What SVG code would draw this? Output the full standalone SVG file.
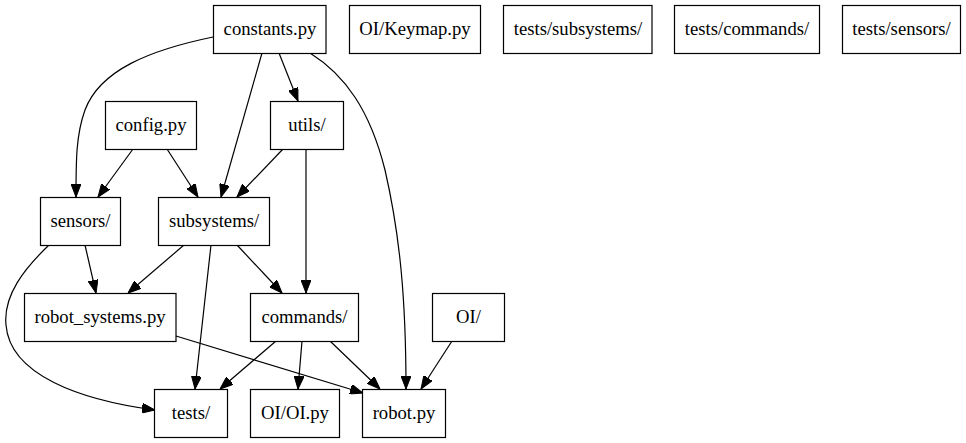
<svg xmlns="http://www.w3.org/2000/svg" width="966" height="443" viewBox="0 0 966 443">
<style>
.n rect{fill:#fff;stroke:#000;stroke-width:1.2}
.n text{font-family:"Liberation Serif","Times New Roman",serif;font-size:18.67px;text-anchor:middle;fill:#000}
#edges path{fill:none;stroke:#000;stroke-width:1.2;marker-end:url(#ah)}
</style>
<defs>
<marker id="ah" viewBox="0 0 13 10" refX="13" refY="5" markerWidth="13" markerHeight="10" markerUnits="userSpaceOnUse" orient="auto">
<path d="M0,0 L13,5 L0,10 z" fill="#000" stroke="#000"/>
</marker>
</defs>
<rect width="966" height="443" fill="#fff"/>
<g id="edges">
<path d="M213,37 C150,50 100,70 85,110 C76,135 76,160 76,197"/>
<path d="M262,53 L221,197"/>
<path d="M279,53 L298,101"/>
<path d="M310,53 C345,75 370,110 385,170 C400,235 406,300 406,389"/>
<path d="M133,149 L98,197"/>
<path d="M167,149 L198,197"/>
<path d="M283,149 L237,197"/>
<path d="M306,149 L306,293"/>
<path d="M85,245 L96,293"/>
<path d="M49,245 C25,268 3,295 6,325 C10,375 80,400 155,410"/>
<path d="M184,245 L128,293"/>
<path d="M211,245 L195,389"/>
<path d="M237,245 L282,293"/>
<path d="M176,336 L363,393"/>
<path d="M276,341 L220,389"/>
<path d="M302,341 L298,389"/>
<path d="M330,341 L380,389"/>
<path d="M452,341 L421,389"/>
</g>
<g id="constants" class="n"><rect x="213.5" y="5.5" width="112.5" height="48"/><text x="270" y="35">constants.py</text></g>
<g id="keymap" class="n"><rect x="349.5" y="5.5" width="131" height="48"/><text x="415" y="35">OI/Keymap.py</text></g>
<g id="tests_subsystems" class="n"><rect x="503.5" y="5.5" width="148.5" height="48"/><text x="578" y="35">tests/subsystems/</text></g>
<g id="tests_commands" class="n"><rect x="674.5" y="5.5" width="145" height="48"/><text x="747" y="35">tests/commands/</text></g>
<g id="tests_sensors" class="n"><rect x="842.5" y="5.5" width="118" height="48"/><text x="901.5" y="35">tests/sensors/</text></g>
<g id="config" class="n"><rect x="105.5" y="101.5" width="91" height="48"/><text x="151" y="131">config.py</text></g>
<g id="utils" class="n"><rect x="270.5" y="101.5" width="73" height="48"/><text x="307" y="131">utils/</text></g>
<g id="sensors" class="n"><rect x="40.5" y="197.5" width="80" height="48"/><text x="80.5" y="227">sensors/</text></g>
<g id="subsystems" class="n"><rect x="158.5" y="197.5" width="111" height="48"/><text x="214" y="227">subsystems/</text></g>
<g id="robot_systems" class="n"><rect x="24.5" y="293.5" width="151.5" height="48"/><text x="100" y="323">robot_systems.py</text></g>
<g id="commands" class="n"><rect x="250.5" y="293.5" width="108" height="48"/><text x="304.5" y="323">commands/</text></g>
<g id="oi" class="n"><rect x="432.5" y="293.5" width="72" height="48"/><text x="468.5" y="323">OI/</text></g>
<g id="tests" class="n"><rect x="154.5" y="389.5" width="73" height="48"/><text x="191" y="419">tests/</text></g>
<g id="oi_py" class="n"><rect x="250.5" y="389.5" width="89" height="48"/><text x="295" y="419">OI/OI.py</text></g>
<g id="robot" class="n"><rect x="362.5" y="389.5" width="83" height="48"/><text x="404" y="419">robot.py</text></g>
</svg>
